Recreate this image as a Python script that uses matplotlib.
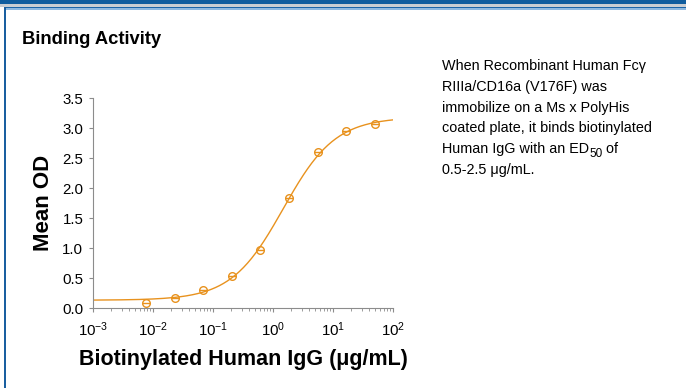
import numpy as np
import matplotlib
matplotlib.use("Agg")
import matplotlib.pyplot as plt
from matplotlib.patches import Rectangle

plt.rcParams['font.family'] = ['Liberation Sans', 'DejaVu Sans']
plt.rcParams['mathtext.fontset'] = 'custom'
plt.rcParams['mathtext.rm'] = 'Liberation Sans'
plt.rcParams['mathtext.it'] = 'Liberation Sans:italic'
plt.rcParams['mathtext.bf'] = 'Liberation Sans:bold'
plt.rcParams['axes.unicode_minus'] = False

## data
conc = [0.00762, 0.0229, 0.0686, 0.206, 0.617, 1.85, 5.56, 16.7, 50.0]
od = [0.09, 0.16, 0.30, 0.53, 0.97, 1.83, 2.60, 2.95, 3.06]

## 4PL fit parameters (bottom, top, ED50, hill)
fit_bottom = 0.13
fit_top = 3.18
fit_ec50 = 1.48
fit_hill = 1.0

note_lines = [
    "When Recombinant Human Fc\u03b3",
    "RIIIa/CD16a (V176F) was",
    "immobilize on a Ms x PolyHis",
    "coated plate, it binds biotinylated",
    ["Human IgG with an ED", "50", " of"],
    "0.5-2.5 \u03bcg/mL.",
]

orange = '#E8921E'
W, H = 686, 388
fig = plt.figure(figsize=(W / 100, H / 100), dpi=100)

## frame decoration
def px_rect(x, y, w, h, color):
    fig.add_artist(Rectangle((x / W, 1 - (y + h) / H), w / W, h / H,
                             transform=fig.transFigure, color=color, lw=0))

px_rect(0, 0, W, 3.5, '#0F5C9E')
px_rect(0, 3.5, W, 3, '#C9CDD2')
px_rect(4, 6.5, W, 2, '#1A64A8')
px_rect(4, 8.5, W, 1.2, '#8DB8E0')
px_rect(4, 6.5, 2.2, H, '#1A5FA0')

fig.text(22 / W, 1 - 39 / H, "Binding Activity", fontsize=13.2,
         fontweight='bold', va='center', ha='left')

ax = fig.add_axes([93 / W, 1 - 308 / H, 300 / W, 210 / H])
xs = np.logspace(-3, 2, 300)
ys = fit_top + (fit_bottom - fit_top) / (1 + (xs / fit_ec50) ** fit_hill)
ax.plot(xs, ys, color=orange, lw=1.0)
ax.plot(conc, od, 'o', mfc='none', mec=orange, ms=5.5, mew=1.0)
ax.plot(conc, od, '_', color=orange, ms=6, mew=1.0)

ax.set_xscale('log')
ax.set_xlim(1e-3, 1e2)
ax.set_ylim(0, 3.5)
ax.set_yticks(np.arange(0, 3.51, 0.5))
ax.set_yticklabels(["%.1f" % v for v in np.arange(0, 3.51, 0.5)])
for s in ['top', 'right']:
    ax.spines[s].set_visible(False)
for s in ['left', 'bottom']:
    ax.spines[s].set_color('#8C8C8C')
    ax.spines[s].set_linewidth(0.8)
ax.tick_params(axis='both', which='major', labelsize=10.8, color='#8C8C8C',
               length=3, width=0.8)
ax.tick_params(axis='x', which='minor', color='#8C8C8C', length=2, width=0.6)
ax.tick_params(axis='x', pad=6)
ax.tick_params(axis='y', pad=4)

ax.set_xlabel("Biotinylated Human IgG (\u03bcg/mL)", fontsize=15.5,
              fontweight='bold', labelpad=7)
ax.set_ylabel("Mean OD", fontsize=16, fontweight='bold', labelpad=6)

## note on the right, ED50 subscript placed by hand
renderer = fig.canvas.get_renderer()
y0 = 66
for i, line in enumerate(note_lines):
    ypos = 1 - (y0 + i * 20.8) / H
    if isinstance(line, str):
        fig.text(442 / W, ypos, line, fontsize=10.4, va='center', ha='left')
        continue
    xcur = 442 / W
    for j, part in enumerate(line):
        if j == 1:
            t = fig.text(xcur, ypos - 5 / H, part, fontsize=8.5,
                         va='center', ha='left')
        else:
            t = fig.text(xcur, ypos, part, fontsize=10.4,
                         va='center', ha='left')
        bb = t.get_window_extent(renderer)
        xcur = bb.x1 / W

fig.savefig('out.png', dpi=100)
